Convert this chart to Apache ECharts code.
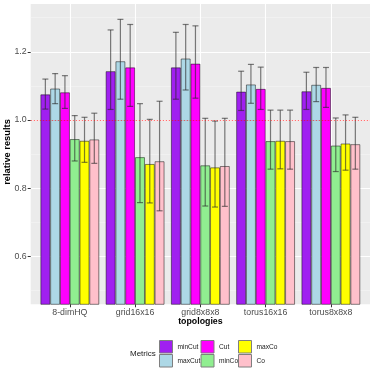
<!DOCTYPE html>
<html>
<head>
<meta charset="utf-8">
<script src="https://cdn.jsdelivr.net/npm/echarts@6/dist/echarts.min.js"></script>
<style>
html, body { margin: 0; padding: 0; background: #fff; }
#chart { width: 374px; height: 374px; }
</style>
</head>
<body>
<div id="chart"></div>
<script>
const topologies = ['8-dimHQ', 'grid16x16', 'grid8x8x8', 'torus16x16', 'torus8x8x8']
const metrics = ['minCut', 'maxCut', 'Cut', 'minCo', 'maxCo', 'Co']
const metricColors = ['#A020F0', '#ADD8E6', '#FF00FF', '#90EE90', '#FFFF00', '#FFC0CB']

// mean per topology
const minCut = [1.075, 1.143, 1.154, 1.083, 1.084]
const maxCut = [1.092, 1.172, 1.180, 1.104, 1.103]
const cut = [1.081, 1.154, 1.165, 1.091, 1.094]
const minCo = [0.944, 0.891, 0.867, 0.938, 0.925]
const maxCo = [0.939, 0.871, 0.861, 0.939, 0.931]
const co = [0.943, 0.879, 0.865, 0.938, 0.929]

// error bar ends
const minCutLow = [1.032, 1.031, 1.061, 1.028, 1.031]
const minCutHigh = [1.120, 1.264, 1.257, 1.143, 1.140]
const maxCutLow = [1.048, 1.061, 1.088, 1.049, 1.054]
const maxCutHigh = [1.136, 1.295, 1.280, 1.163, 1.154]
const cutLow = [1.034, 1.040, 1.064, 1.031, 1.037]
const cutHigh = [1.130, 1.280, 1.276, 1.155, 1.154]
const minCoLow = [0.880, 0.758, 0.748, 0.856, 0.849]
const minCoHigh = [1.013, 1.048, 1.005, 1.029, 1.006]
const maxCoLow = [0.876, 0.757, 0.745, 0.857, 0.853]
const maxCoHigh = [1.008, 1.002, 0.997, 1.029, 1.015]
const coLow = [0.873, 0.734, 0.747, 0.856, 0.856]
const coHigh = [1.020, 1.055, 1.005, 1.029, 1.008]

const yMajor = [0.6, 0.8, 1.0, 1.2]
const yMinor = [0.5, 0.7, 0.9, 1.1, 1.3]
const yMin = 0.46
const yMax = 1.34

const means = [minCut, maxCut, cut, minCo, maxCo, co]
const lows = [minCutLow, maxCutLow, cutLow, minCoLow, maxCoLow, coLow]
const highs = [minCutHigh, maxCutHigh, cutHigh, minCoHigh, maxCoHigh, coHigh]

const font = 'Liberation Sans, Arial, sans-serif'
const chart = echarts.init(document.getElementById('chart'))

function errorBar(k) {
  return function (params, api) {
    const cat = api.value(0)
    const lo = api.coord([cat, api.value(1)])
    const hi = api.coord([cat, api.value(2)])
    const band = api.size([1, 0])[0]
    const groupW = band * 0.9
    const barW = groupW / metrics.length
    const x = lo[0] - groupW / 2 + barW * (k + 0.5)
    const cap = 3
    const style = { stroke: 'rgba(40,40,40,0.6)', lineWidth: 1.2 }
    return {
      type: 'group',
      children: [
        { type: 'line', shape: { x1: x, y1: hi[1], x2: x, y2: lo[1] }, style: style },
        { type: 'line', shape: { x1: x - cap, y1: hi[1], x2: x + cap, y2: hi[1] }, style: style },
        { type: 'line', shape: { x1: x - cap, y1: lo[1], x2: x + cap, y2: lo[1] }, style: style }
      ]
    }
  }
}

const series = [{
  type: 'line',
  xAxisIndex: 0,
  yAxisIndex: 0,
  data: [],
  silent: true,
  markLine: {
    silent: true,
    symbol: 'none',
    label: { show: false },
    lineStyle: { color: 'rgba(255,0,0,0.7)', type: [1.5, 1.5], width: 0.8 },
    data: [{ yAxis: 1 }]
  }
}]

metrics.forEach((name, k) => {
  series.push({
    name: name,
    type: 'bar',
    xAxisIndex: 1,
    yAxisIndex: 2,
    barCategoryGap: '10%',
    barGap: '0%',
    itemStyle: {
      color: metricColors[k],
      borderColor: 'rgba(0,0,0,0.6)',
      borderWidth: 0.8
    },
    data: means[k]
  })
})

metrics.forEach((name, k) => {
  series.push({
    name: name + ' err',
    type: 'custom',
    xAxisIndex: 1,
    yAxisIndex: 2,
    z: 3,
    renderItem: errorBar(k),
    encode: { x: 0, y: [1, 2] },
    data: topologies.map((t, i) => [i, lows[k][i], highs[k][i]])
  })
})

function legendCol(left, names) {
  return {
    orient: 'vertical',
    left: left,
    top: 340,
    itemWidth: 13,
    itemHeight: 12.5,
    itemGap: 0.5,
    icon: 'rect',
    padding: 0,
    selectedMode: false,
    itemStyle: { borderColor: '#7f7f7f', borderWidth: 1 },
    textStyle: { fontSize: 6.6, color: '#1a1a1a', fontFamily: font },
    data: names
  }
}

chart.setOption({
  backgroundColor: '#fff',
  animation: false,
  textStyle: { fontFamily: font },
  grid: [{
    left: 30.7,
    right: 4,
    top: 4,
    bottom: 69.7,
    show: true,
    backgroundColor: '#EBEBEB',
    borderWidth: 0
  }, {
    left: 37.2,
    right: 10.5,
    top: 4,
    bottom: 69.7
  }],
  legend: [
    legendCol(159, ['minCut', 'maxCut']),
    legendCol(200.5, ['Cut', 'minCo']),
    legendCol(238, ['maxCo', 'Co'])
  ],
  graphic: [{
    type: 'text',
    x: 130,
    y: 353.5,
    style: { text: 'Metrics', fontSize: 8, fill: '#1a1a1a', fontFamily: font, verticalAlign: 'middle' }
  }, {
    type: 'text',
    x: 7.8,
    y: 152,
    rotation: Math.PI / 2,
    style: {
      text: 'relative results',
      fontSize: 9.3,
      fontWeight: 'bold',
      fill: '#000',
      fontFamily: font,
      align: 'center',
      verticalAlign: 'middle'
    }
  }, {
    type: 'text',
    x: 200.4,
    y: 321.7,
    style: {
      text: 'topologies',
      fontSize: 8.8,
      fontWeight: 'bold',
      fill: '#000',
      fontFamily: font,
      align: 'center',
      verticalAlign: 'middle'
    }
  }],
  xAxis: [{
    type: 'value',
    gridIndex: 0,
    min: 0.4,
    max: 5.6,
    axisLine: { show: false },
    axisTick: { show: false, customValues: [1, 2, 3, 4, 5] },
    axisLabel: { show: false },
    splitLine: { show: true, lineStyle: { color: '#fff', width: 1.1 } }
  }, {
    type: 'category',
    gridIndex: 1,
    data: topologies,
    axisLine: { show: false },
    axisTick: { show: true, alignWithLabel: true, length: 3, lineStyle: { color: '#333' } },
    axisLabel: { margin: 4, fontSize: 8.8, color: '#4D4D4D', fontFamily: font },
    splitLine: { show: false }
  }],
  yAxis: [{
    type: 'value',
    gridIndex: 0,
    min: yMin,
    max: yMax,
    axisLine: { show: false },
    axisTick: { show: true, length: 3, customValues: yMajor, lineStyle: { color: '#333' } },
    axisLabel: {
      margin: 4,
      fontSize: 8.8,
      color: '#4D4D4D',
      fontFamily: font,
      customValues: yMajor,
      formatter: v => v.toFixed(1)
    },
    splitLine: { show: true, lineStyle: { color: '#fff', width: 1.1 } }
  }, {
    type: 'value',
    gridIndex: 0,
    min: yMin,
    max: yMax,
    axisLine: { show: false },
    axisTick: { show: false, customValues: yMinor },
    axisLabel: { show: false },
    splitLine: { show: true, lineStyle: { color: '#F5F5F5', width: 0.6 } }
  }, {
    type: 'value',
    gridIndex: 1,
    min: yMin,
    max: yMax,
    show: false,
    splitLine: { show: false }
  }],
  series: series
})
</script>
</body>
</html>
